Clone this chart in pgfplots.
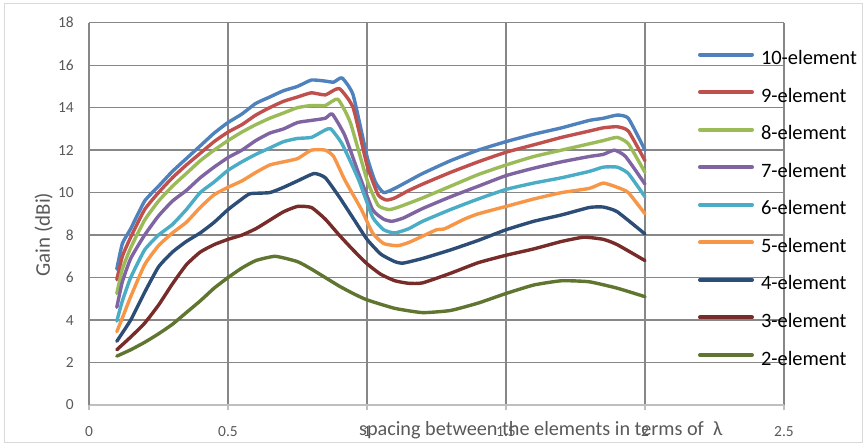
\documentclass[border=0pt]{standalone}
\usepackage{pgfplots}
\pgfplotsset{compat=1.18}
\usepackage{fontspec}
\setmainfont{Carlito}
\definecolor{c10}{HTML}{4F81BD}
\definecolor{c9}{HTML}{C0504D}
\definecolor{c8}{HTML}{9BBB59}
\definecolor{c7}{HTML}{8064A2}
\definecolor{c6}{HTML}{4BACC6}
\definecolor{c5}{HTML}{F79646}
\definecolor{c4}{HTML}{2C4D75}
\definecolor{c3}{HTML}{772C2A}
\definecolor{c2}{HTML}{5F7530}
\definecolor{gridc}{HTML}{878787}
\definecolor{txtc}{HTML}{595959}
\begin{document}
\begin{tikzpicture}
\useasboundingbox (-89bp,-41bp) rectangle (777bp,405bp);
\draw[color=black!15, line width=1bp] (-84bp,-37bp) rectangle (773bp,401bp);
\begin{axis}[
  scale only axis,
  width=695bp, height=382.3bp,
  xmin=0, xmax=2.5, ymin=0, ymax=18,
  xtick={0,0.5,1,1.5,2,2.5},
  xticklabels={0,0.5,1,1.5,2,2.5},
  ytick={0,2,4,6,8,10,12,14,16,18},
  yticklabels={0,2,4,6,8,10,12,14,16,18},
  grid=major,
  major grid style={color=gridc, line width=1.3bp},
  axis x line*=bottom,
  axis y line*=left,
  x axis line style={color=black!25, line width=1.3bp},
  y axis line style={color=gridc, line width=1.3bp},
  xtick align=outside,
  major tick length=5bp,
  xtick style={color=black!25, line width=1.3bp},
  ytick style={draw=none},
  ticklabel style={font=\fontsize{15.5}{18}\selectfont, text=txtc},
  xticklabel style={anchor=center, inner sep=0pt, yshift=-21.7bp},
  yticklabel style={anchor=east, inner sep=0pt, xshift=-15bp},
  ylabel={Gain (dBi)},
  ylabel style={at={(rel axis cs:0,0.446)}, anchor=base, yshift=39bp, font=\fontsize{21}{24}\selectfont, text=txtc},
  xlabel={spacing between the elements in terms of \ λ},
  xlabel style={at={(rel axis cs:0.65,0)}, anchor=base, yshift=-30bp, font=\fontsize{20.3}{24}\selectfont, text=txtc},
  legend style={draw=none, fill=none, inner sep=0pt, outer sep=0pt,
    at={(rel axis cs:0,1)}, anchor=north west, xshift=609bp, yshift=-27.9bp,
    font=\fontsize{20.5}{24}\selectfont,
    nodes={inner sep=0pt, text height=14bp, text depth=4bp},
    row sep=19.55bp,
    /tikz/every odd column/.style={column sep=7bp}},
  legend cell align=left,
  legend image code/.code={\draw[#1, line width=4bp] (0bp,5bp) -- (52bp,5bp);},
  every axis plot/.append style={line width=3.4bp, line join=round, line cap=round, mark=none, smooth, tension=0.3},
]
% 10-element
\addplot[c10] coordinates {
(0.10,6.4)(0.12,7.6)(0.15,8.3)(0.20,9.6)(0.25,10.3)(0.30,11.0)(0.35,11.6)(0.40,12.2)(0.45,12.8)(0.50,13.3)(0.55,13.7)(0.60,14.2)(0.65,14.5)(0.70,14.8)(0.75,15.0)(0.80,15.3)(0.85,15.25)(0.88,15.2)(0.91,15.4)(0.95,14.6)(1.00,11.7)(1.03,10.5)(1.06,10.0)(1.10,10.2)(1.15,10.55)(1.20,10.9)(1.30,11.5)(1.40,12.0)(1.50,12.4)(1.60,12.75)(1.70,13.05)(1.80,13.4)(1.85,13.5)(1.90,13.65)(1.94,13.5)(2.00,12.0)};
\addlegendentry{10-element}
% 9-element
\addplot[c9] coordinates {
(0.10,5.9)(0.12,7.0)(0.15,7.9)(0.20,9.2)(0.25,10.0)(0.30,10.7)(0.35,11.3)(0.40,11.85)(0.45,12.4)(0.50,12.85)(0.55,13.2)(0.60,13.65)(0.65,14.0)(0.70,14.3)(0.75,14.5)(0.80,14.7)(0.85,14.6)(0.90,14.9)(0.95,14.0)(1.00,11.3)(1.04,9.9)(1.07,9.65)(1.10,9.75)(1.15,10.1)(1.20,10.4)(1.30,10.95)(1.40,11.45)(1.50,11.9)(1.60,12.25)(1.70,12.6)(1.80,12.9)(1.85,13.05)(1.90,13.1)(1.94,12.9)(2.00,11.5)};
\addlegendentry{9-element}
% 8-element
\addplot[c8] coordinates {
(0.10,5.25)(0.12,6.4)(0.15,7.4)(0.20,8.7)(0.25,9.6)(0.30,10.3)(0.35,10.9)(0.40,11.5)(0.45,12.0)(0.50,12.45)(0.55,12.85)(0.60,13.2)(0.65,13.5)(0.70,13.75)(0.75,14.0)(0.80,14.1)(0.85,14.1)(0.895,14.4)(0.94,13.3)(1.00,10.6)(1.04,9.4)(1.08,9.2)(1.12,9.35)(1.20,9.75)(1.30,10.3)(1.40,10.85)(1.50,11.3)(1.60,11.7)(1.70,12.0)(1.80,12.3)(1.85,12.45)(1.90,12.6)(1.94,12.3)(2.00,10.95)};
\addlegendentry{8-element}
% 7-element
\addplot[c7] coordinates {
(0.10,4.6)(0.12,5.8)(0.15,6.9)(0.20,8.0)(0.25,8.9)(0.30,9.6)(0.35,10.1)(0.40,10.7)(0.45,11.2)(0.50,11.65)(0.55,12.0)(0.60,12.45)(0.65,12.8)(0.70,13.0)(0.75,13.3)(0.80,13.4)(0.85,13.5)(0.875,13.7)(0.92,12.7)(0.97,10.9)(1.02,9.2)(1.06,8.75)(1.09,8.65)(1.13,8.8)(1.20,9.25)(1.30,9.8)(1.40,10.3)(1.50,10.8)(1.60,11.15)(1.70,11.45)(1.80,11.7)(1.85,11.8)(1.89,12.0)(1.93,11.7)(2.00,10.4)};
\addlegendentry{7-element}
% 6-element
\addplot[c6] coordinates {
(0.10,3.95)(0.12,4.9)(0.15,6.0)(0.20,7.3)(0.25,8.0)(0.30,8.5)(0.35,9.2)(0.40,10.0)(0.45,10.5)(0.50,11.05)(0.55,11.45)(0.60,11.8)(0.65,12.1)(0.70,12.4)(0.75,12.55)(0.80,12.6)(0.85,12.95)(0.87,13.0)(0.91,12.3)(0.97,10.6)(1.02,8.85)(1.06,8.25)(1.10,8.1)(1.15,8.3)(1.20,8.65)(1.30,9.2)(1.40,9.7)(1.50,10.15)(1.60,10.45)(1.70,10.7)(1.80,11.0)(1.85,11.2)(1.90,11.2)(1.94,10.9)(2.00,9.8)};
\addlegendentry{6-element}
% 5-element
\addplot[c5] coordinates {
(0.10,3.45)(0.12,4.1)(0.15,5.1)(0.20,6.6)(0.25,7.5)(0.30,8.1)(0.35,8.6)(0.40,9.3)(0.45,9.9)(0.50,10.25)(0.55,10.55)(0.60,10.95)(0.65,11.3)(0.70,11.45)(0.75,11.6)(0.80,12.0)(0.85,12.0)(0.88,11.7)(0.92,10.6)(0.98,9.2)(1.02,8.1)(1.06,7.6)(1.11,7.5)(1.15,7.65)(1.20,7.95)(1.25,8.25)(1.28,8.3)(1.35,8.75)(1.40,9.0)(1.50,9.35)(1.60,9.7)(1.70,10.0)(1.80,10.2)(1.85,10.45)(1.90,10.25)(1.94,10.0)(2.00,9.0)};
\addlegendentry{5-element}
% 4-element
\addplot[c4] coordinates {
(0.10,3.0)(0.15,4.0)(0.20,5.3)(0.25,6.5)(0.30,7.2)(0.35,7.7)(0.40,8.1)(0.45,8.6)(0.50,9.2)(0.55,9.7)(0.58,9.95)(0.65,10.0)(0.70,10.25)(0.75,10.55)(0.81,10.9)(0.85,10.7)(0.90,9.8)(0.95,8.8)(1.00,7.8)(1.05,7.1)(1.10,6.75)(1.13,6.68)(1.20,6.9)(1.30,7.3)(1.40,7.75)(1.50,8.25)(1.60,8.65)(1.70,8.95)(1.80,9.3)(1.85,9.32)(1.90,9.1)(2.00,8.05)};
\addlegendentry{4-element}
% 3-element
\addplot[c3] coordinates {
(0.10,2.6)(0.15,3.2)(0.20,3.85)(0.25,4.7)(0.30,5.7)(0.35,6.6)(0.40,7.2)(0.45,7.55)(0.50,7.8)(0.55,8.0)(0.60,8.3)(0.65,8.7)(0.70,9.1)(0.75,9.35)(0.80,9.3)(0.85,8.75)(0.90,8.0)(0.95,7.3)(1.00,6.65)(1.05,6.15)(1.10,5.85)(1.15,5.73)(1.20,5.75)(1.30,6.2)(1.40,6.7)(1.50,7.05)(1.60,7.35)(1.70,7.7)(1.78,7.9)(1.85,7.8)(1.90,7.55)(2.00,6.8)};
\addlegendentry{3-element}
% 2-element
\addplot[c2] coordinates {
(0.10,2.3)(0.15,2.6)(0.20,2.95)(0.25,3.35)(0.30,3.8)(0.35,4.35)(0.40,4.9)(0.45,5.5)(0.50,6.0)(0.55,6.45)(0.60,6.8)(0.67,7.0)(0.75,6.75)(0.80,6.4)(0.85,6.0)(0.90,5.6)(0.95,5.25)(1.00,4.95)(1.10,4.55)(1.20,4.35)(1.30,4.45)(1.40,4.8)(1.50,5.25)(1.60,5.65)(1.70,5.85)(1.80,5.8)(1.90,5.5)(2.00,5.1)};
\addlegendentry{2-element}
\end{axis}
\end{tikzpicture}
\end{document}
